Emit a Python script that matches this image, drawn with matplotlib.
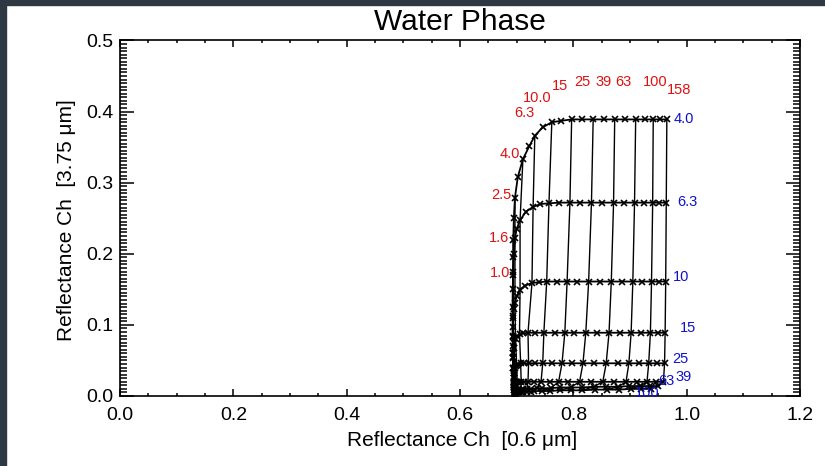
import matplotlib.pyplot as plt
from matplotlib.patches import Rectangle
from matplotlib.ticker import MultipleLocator

plt.rcParams['font.family'] = ['Liberation Sans', 'DejaVu Sans']

# optical thickness labels (red) and effective radius labels (blue)
tau_labels = ['1.0', '1.6', '2.5', '4.0', '6.3', '10.0', '15', '25', '39', '63', '100', '158']
tau_label_x = [0.688, 0.686, 0.691, 0.706, 0.713, 0.737, 0.777, 0.816, 0.854, 0.888, 0.944, 0.987]
tau_label_y = [0.173, 0.222, 0.283, 0.340, 0.398, 0.419, 0.436, 0.441, 0.441, 0.441, 0.441, 0.430]
tau_label_ha = ['right', 'right', 'right', 'right', 'center', 'center', 'center', 'center', 'center',
                'center', 'center', 'center']
# column index of each labelled tau in the grid below
tau_cols = [5, 7, 9, 11, 13, 15, 17, 19, 21, 23, 25, 27]

re_labels = ['4.0', '6.3', '10', '15', '25', '39', '63', '100']
re_label_x = [0.977, 0.984, 0.975, 0.988, 0.974, 0.981, 0.950, 0.908]
re_label_y = [0.389, 0.273, 0.167, 0.095, 0.052, 0.027, 0.021, 0.004]

# reflectance 0.6 um (x) and 3.75 um (y), one row per effective radius
x_re4 = [0.697, 0.696, 0.695, 0.694, 0.693, 0.6935, 0.694, 0.694, 0.695, 0.697, 0.702, 0.711, 0.722, 0.732,
         0.746, 0.762, 0.778, 0.797, 0.815, 0.835, 0.854, 0.873, 0.891, 0.910, 0.926, 0.941, 0.953, 0.965]
y_re4 = [0.008, 0.020, 0.040, 0.070, 0.112, 0.170, 0.196, 0.219, 0.250, 0.279, 0.308, 0.333, 0.351, 0.366,
         0.378, 0.385, 0.387, 0.389, 0.389, 0.389, 0.389, 0.389, 0.389, 0.389, 0.389, 0.389, 0.389, 0.389]
x_re6 = [0.697, 0.696, 0.695, 0.694, 0.693, 0.693, 0.693, 0.694, 0.695, 0.697, 0.700, 0.706, 0.716, 0.729,
         0.742, 0.757, 0.775, 0.794, 0.812, 0.832, 0.851, 0.871, 0.889, 0.908, 0.924, 0.940, 0.952, 0.964]
y_re6 = [0.007, 0.017, 0.033, 0.055, 0.085, 0.125, 0.150, 0.175, 0.200, 0.222, 0.235, 0.247, 0.259, 0.266,
         0.270, 0.271, 0.272, 0.272, 0.272, 0.272, 0.272, 0.272, 0.272, 0.272, 0.272, 0.272, 0.272, 0.272]
x_re10 = [0.697, 0.696, 0.695, 0.694, 0.693, 0.693, 0.693, 0.694, 0.695, 0.697, 0.700, 0.706, 0.714, 0.727,
          0.740, 0.753, 0.771, 0.789, 0.807, 0.827, 0.847, 0.867, 0.886, 0.905, 0.922, 0.938, 0.951, 0.963]
y_re10 = [0.006, 0.014, 0.025, 0.040, 0.060, 0.083, 0.097, 0.110, 0.122, 0.131, 0.140, 0.149, 0.155, 0.159,
          0.160, 0.161, 0.161, 0.161, 0.161, 0.161, 0.161, 0.161, 0.161, 0.161, 0.161, 0.161, 0.161, 0.161]
x_re15 = [0.697, 0.696, 0.695, 0.695, 0.694, 0.694, 0.694, 0.695, 0.696, 0.698, 0.701, 0.705, 0.711, 0.720,
          0.732, 0.748, 0.767, 0.785, 0.802, 0.822, 0.842, 0.863, 0.882, 0.902, 0.919, 0.936, 0.950, 0.962]
y_re15 = [0.005, 0.011, 0.018, 0.028, 0.040, 0.053, 0.061, 0.068, 0.075, 0.080, 0.084, 0.087, 0.088, 0.089,
          0.089, 0.089, 0.089, 0.089, 0.089, 0.089, 0.089, 0.089, 0.089, 0.089, 0.089, 0.089, 0.089, 0.089]
x_re25 = [0.697, 0.696, 0.696, 0.695, 0.695, 0.695, 0.696, 0.697, 0.698, 0.700, 0.703, 0.707, 0.713, 0.721,
          0.732, 0.746, 0.763, 0.780, 0.797, 0.817, 0.837, 0.858, 0.878, 0.898, 0.916, 0.933, 0.948, 0.961]
y_re25 = [0.004, 0.008, 0.013, 0.019, 0.026, 0.033, 0.036, 0.039, 0.042, 0.044, 0.045, 0.046, 0.046, 0.046,
          0.046, 0.046, 0.046, 0.046, 0.046, 0.046, 0.046, 0.046, 0.046, 0.046, 0.046, 0.046, 0.046, 0.046]
x_re39 = [0.697, 0.697, 0.696, 0.696, 0.696, 0.697, 0.697, 0.698, 0.699, 0.701, 0.704, 0.708, 0.713, 0.720,
          0.730, 0.743, 0.758, 0.774, 0.791, 0.811, 0.831, 0.852, 0.872, 0.893, 0.912, 0.930, 0.945, 0.959]
y_re39 = [0.003, 0.006, 0.009, 0.012, 0.015, 0.017, 0.018, 0.019, 0.020, 0.020, 0.020, 0.020, 0.020, 0.020,
          0.020, 0.020, 0.020, 0.020, 0.020, 0.020, 0.020, 0.020, 0.020, 0.020, 0.020, 0.020, 0.020, 0.020]
x_re63 = [0.697, 0.697, 0.697, 0.697, 0.697, 0.698, 0.698, 0.699, 0.700, 0.702, 0.704, 0.707, 0.712, 0.718,
          0.726, 0.735, 0.745, 0.760, 0.776, 0.795, 0.815, 0.836, 0.857, 0.879, 0.899, 0.918, 0.935, 0.950]
y_re63 = [0.002, 0.004, 0.005, 0.006, 0.007, 0.008, 0.008, 0.008, 0.009, 0.009, 0.009, 0.009, 0.010, 0.010,
          0.010, 0.011, 0.011, 0.011, 0.012, 0.012, 0.012, 0.013, 0.013, 0.013, 0.014, 0.014, 0.014, 0.014]
x_re100 = [0.697, 0.697, 0.697, 0.697, 0.697, 0.698, 0.698, 0.698, 0.699, 0.700, 0.702, 0.704, 0.707, 0.712,
           0.718, 0.725, 0.730, 0.744, 0.758, 0.776, 0.795, 0.816, 0.838, 0.860, 0.881, 0.901, 0.920, 0.937]
y_re100 = [0.002, 0.003, 0.003, 0.004, 0.004, 0.004, 0.004, 0.005, 0.005, 0.005, 0.005, 0.005, 0.006, 0.006,
           0.006, 0.006, 0.007, 0.007, 0.007, 0.008, 0.008, 0.008, 0.009, 0.009, 0.009, 0.010, 0.010, 0.010]

xs = [x_re4, x_re6, x_re10, x_re15, x_re25, x_re39, x_re63, x_re100]
ys = [y_re4, y_re6, y_re10, y_re15, y_re25, y_re39, y_re63, y_re100]

fig = plt.figure(figsize=(8.25, 4.66), dpi=100)
fig.patches.append(Rectangle((0, 0), 6 / 825, 1, transform=fig.transFigure, color='#2e3842', zorder=0))
fig.patches.append(Rectangle((0, 1 - 5 / 466), 1, 5 / 466, transform=fig.transFigure, color='#2e3842', zorder=0))

ax = fig.add_axes([120 / 825, 70 / 466, 680 / 825, 355.5 / 466])

# constant effective radius curves
for x, y in zip(xs, ys):
    ax.plot(x, y, color='black', lw=1.3, marker='x', ms=4, mew=1.2)

# constant optical thickness lines
for c in tau_cols:
    ax.plot([x[c] for x in xs], [y[c] for y in ys], color='black', lw=1.0)

for t, tx, ty, ha in zip(tau_labels, tau_label_x, tau_label_y, tau_label_ha):
    ax.text(tx, ty, t, color='#e01010', fontsize=10.5, ha=ha, va='center')
for r, rx, ry in zip(re_labels, re_label_x, re_label_y):
    ax.text(rx, ry, r, color='#1010d0', fontsize=10.5, ha='left', va='center')

ax.set_xlim(0, 1.2)
ax.set_ylim(0, 0.5)
ax.xaxis.set_major_locator(MultipleLocator(0.2))
ax.xaxis.set_minor_locator(MultipleLocator(0.05))
ax.yaxis.set_major_locator(MultipleLocator(0.1))
ax.yaxis.set_minor_locator(MultipleLocator(0.005))
ax.xaxis.set_major_formatter(plt.FormatStrFormatter('%.1f'))
ax.yaxis.set_major_formatter(plt.FormatStrFormatter('%.1f'))
ax.tick_params(which='both', direction='in', top=True, right=True, width=1.1, labelsize=14)
ax.tick_params(axis='x', which='major', length=5, pad=8)
ax.tick_params(axis='x', which='minor', length=2.5)
ax.tick_params(axis='y', which='major', length=9.8, pad=5)
ax.tick_params(axis='y', which='minor', length=4.9)
for s in ax.spines.values():
    s.set_linewidth(1.2)

fig.text(460 / 825, 1 - 22 / 466, 'Water Phase', fontsize=21.5, ha='center', va='center')
fig.text(462 / 825, 1 - 440 / 466, 'Reflectance Ch  [0.6 \u03bcm]', fontsize=15, ha='center', va='center')
fig.text(67 / 825, 1 - 220 / 466, 'Reflectance Ch  [3.75 \u03bcm]', fontsize=15, ha='center', va='center',
         rotation=90)

fig.savefig('out.png', dpi=100)
